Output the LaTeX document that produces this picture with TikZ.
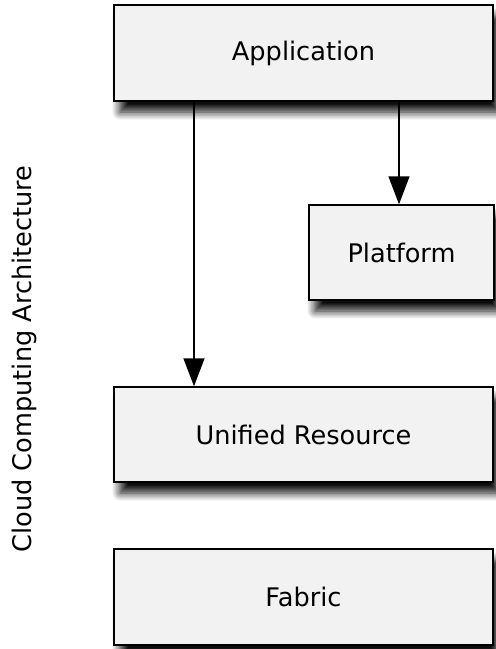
\documentclass[tikz,border=0pt]{standalone}
\usepackage{fontspec}
\setmainfont{DejaVu Sans}
\usetikzlibrary{arrows.meta,shadows.blur}
\tikzset{
  layer/.style={draw=black, line width=1.5pt, fill=boxgray, inner sep=0pt,
    font=\fontsize{25.6}{30}\selectfont,
    blur shadow={shadow xshift=6pt, shadow yshift=-11pt, shadow blur radius=8pt, shadow opacity=95, shadow blur steps=14}},
  link/.style={draw=black, line width=1.5pt, -{Triangle[width=21pt,length=28pt]}}
}
\definecolor{boxgray}{HTML}{F2F2F2}
\begin{document}
\begin{tikzpicture}[x=1pt,y=-1pt]
\useasboundingbox (0,0) rectangle (496,649);
\node[layer, minimum width=379pt, minimum height=96pt] (app) at (303.5,53) {Application};
\node[layer, minimum width=185pt, minimum height=95pt] (plat) at (401.5,252.5) {Platform};
\node[layer, minimum width=379pt, minimum height=95pt] (ur) at (303.5,434.5) {Unified Resource};
\node[layer, minimum width=379pt, minimum height=96pt] (fab) at (303.5,597) {Fabric};
\node[rotate=90, font=\fontsize{25.6}{30}\selectfont] (title) at (24,359) {Cloud Computing Architecture};
\draw[link] (app.south -| 194,0) -- (ur.north -| 194,0);
\draw[link] (app.south -| 399,0) -- (plat.north -| 399,0);
\end{tikzpicture}
\end{document}
